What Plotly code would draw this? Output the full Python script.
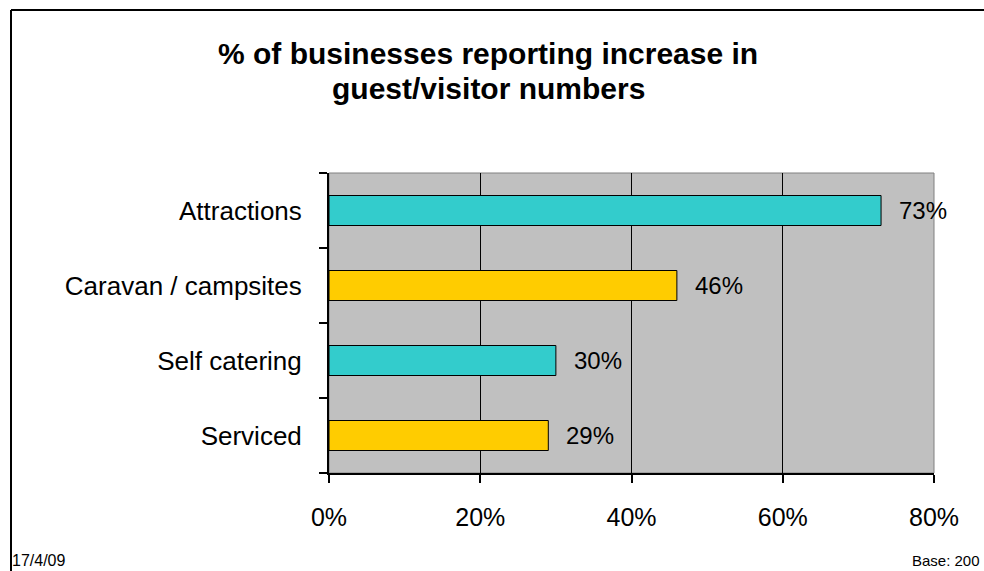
import plotly.graph_objects as go

# Survey results: share of businesses reporting more guests/visitors
categories = ["Attractions", "Caravan / campsites", "Self catering", "Serviced"]
values = [73, 46, 30, 29]
bar_colors = ["#33CCCC", "#FFCC00", "#33CCCC", "#FFCC00"]
x_ticks = [0, 20, 40, 60, 80]

title_lines = ["% of businesses reporting increase in", "guest/visitor numbers"]
date_text = "17/4/09"
base_text = "Base: 200"

FONT = "Liberation Sans, Arial, sans-serif"

W, H = 984, 571
L, R, T, B = 329, 50, 173, 98
pw, ph = W - L - R, H - T - B


def px_x(px):
    """Page pixel column -> paper x."""
    return (px - L) / pw


def px_y(py):
    """Page pixel row -> paper y."""
    return 1 + (T - py) / ph


fig = go.Figure(
    go.Bar(
        x=values,
        y=categories,
        orientation="h",
        width=0.4,
        marker=dict(color=bar_colors, line=dict(color="#000000", width=1)),
        hoverinfo="skip",
    )
)

# value labels placed just beyond each bar end
for cat, val in zip(categories, values):
    fig.add_annotation(
        x=val, y=cat, xref="x", yref="y",
        text=f"{val}%", showarrow=False,
        xanchor="left", yanchor="middle", xshift=16,
        font=dict(family=FONT, size=24, color="#000000"),
    )

# two-line bold heading
for line, cy in zip(title_lines, [53, 88]):
    fig.add_annotation(
        x=px_x(488), y=px_y(cy), xref="paper", yref="paper",
        text=f"<b>{line}</b>", showarrow=False,
        xanchor="center", yanchor="middle",
        font=dict(family=FONT, size=30, color="#000000"),
    )

# footer texts
fig.add_annotation(
    x=px_x(10), y=px_y(571), xref="paper", yref="paper",
    text=date_text, showarrow=False, xanchor="left", yanchor="bottom",
    font=dict(family=FONT, size=16, color="#000000"),
)
fig.add_annotation(
    x=px_x(982), y=px_y(571), xref="paper", yref="paper",
    text=base_text, showarrow=False, xanchor="right", yanchor="bottom",
    font=dict(family=FONT, size=15, color="#000000"),
)

# plot-area border (grey)
fig.add_shape(type="rect", xref="paper", yref="paper", x0=0, x1=1, y0=0, y1=1,
              line=dict(color="#808080", width=1), layer="below")
# outer chart frame: top and left edges reaching the page edges
fig.add_shape(type="line", xref="paper", yref="paper",
              x0=px_x(11), x1=px_x(984), y0=px_y(10), y1=px_y(10),
              line=dict(color="#000000", width=2), layer="below")
fig.add_shape(type="line", xref="paper", yref="paper",
              x0=px_x(11), x1=px_x(11), y0=px_y(10), y1=px_y(571),
              line=dict(color="#000000", width=2), layer="below")

fig.update_layout(
    width=W, height=H,
    margin=dict(l=L, r=R, t=T, b=B),
    paper_bgcolor="#FFFFFF",
    plot_bgcolor="#C0C0C0",
    showlegend=False,
    font=dict(family=FONT, color="#000000"),
    xaxis=dict(
        range=[0, 80],
        tickvals=x_ticks,
        ticktext=[f"{v}%" for v in x_ticks],
        showgrid=True, gridcolor="#000000", gridwidth=1,
        zeroline=False,
        showline=True, linecolor="#000000", linewidth=2,
        ticks="outside", ticklen=8, tickcolor="#000000", tickwidth=2,
        tickfont=dict(family=FONT, size=25, color="#000000"),
        ticklabelstandoff=13,
        fixedrange=True,
    ),
    yaxis=dict(
        categoryorder="array",
        categoryarray=categories[::-1],
        tickson="boundaries",
        showgrid=False,
        zeroline=False,
        showline=True, linecolor="#000000", linewidth=2,
        ticks="outside", ticklen=8, tickcolor="#000000", tickwidth=2,
        tickfont=dict(family=FONT, size=26, color="#000000"),
        ticklabelstandoff=20,
        fixedrange=True,
    ),
)

fig.write_html("out.html", config={"displayModeBar": False})
